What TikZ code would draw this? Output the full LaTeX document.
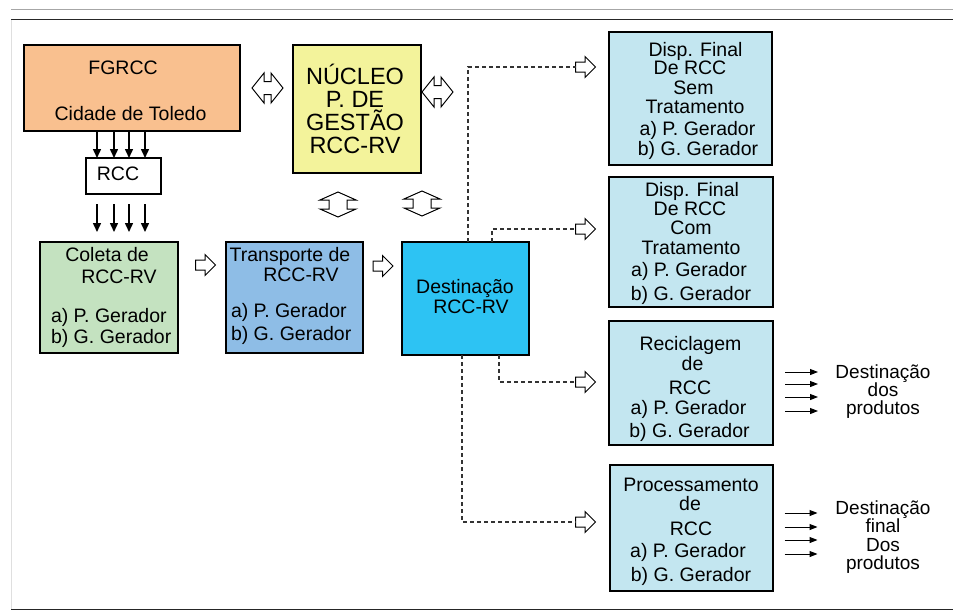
\documentclass[tikz,border=0pt]{standalone}
\usepackage{fontspec}
\setmainfont{Liberation Sans}
\usetikzlibrary{shapes.arrows,arrows.meta}
\definecolor{cOrange}{HTML}{F9C08F}
\definecolor{cYellow}{HTML}{F3F39B}
\definecolor{cGreen}{HTML}{C4E2C0}
\definecolor{cBlue}{HTML}{8EBDE6}
\definecolor{cCyan}{HTML}{2DC3F3}
\definecolor{cLight}{HTML}{C3E6F0}
\begin{document}
\begin{tikzpicture}[x=1pt,y=-1pt,
  box/.style={draw=black, line width=1.2pt, inner sep=0pt, outer sep=0pt},
  txt/.style={inner sep=0pt, outer sep=0pt, anchor=base, font=\fontsize{19.5}{23}\selectfont},
  txts/.style={txt, font=\fontsize{19}{22}\selectfont},
  txtw/.style={txt, anchor=base west},
  big/.style={inner sep=0pt, outer sep=0pt, anchor=base, font=\fontsize{23.5}{28}\selectfont},
  harrow/.style={single arrow, draw=black, fill=white, line width=1pt, inner xsep=0pt, inner ysep=4.5pt,
    single arrow head extend=5.5pt, single arrow tip angle=90, minimum height=20pt, minimum width=20pt, outer sep=0pt},
  blk/.style={draw=black, fill=white, line width=1pt, line join=miter},
  varr/.style={line width=1.5pt, -{Triangle[length=9pt,width=8pt]}},
  tarr/.style={line width=1pt, -{Triangle[length=8pt,width=6pt]}},
  dsh/.style={black!80, line width=1.3pt, dash pattern=on 4pt off 3pt}
]
\useasboundingbox (0,0) rectangle (953,611);
% frame
\draw[gray!70, line width=0.8pt] (11,9.5) -- (953,9.5);
\draw[black!85, line width=1.5pt] (11,19.5) -- (953,19.5);
\draw[gray!25, line width=0.6pt] (11,19.5) -- (11,609.5);
\draw[black!85, line width=1.5pt] (11,609.5) -- (953,609.5);

% boxes
\node[box, fill=cOrange, minimum width=216pt, minimum height=86pt] (fg) at (132,88) {};
\node[box, fill=white, minimum width=75pt, minimum height=36pt] (rcc) at (123.5,176) {};
\node[box, fill=cYellow, minimum width=128pt, minimum height=128pt] (nuc) at (357,109) {};
\node[box, fill=cGreen, minimum width=138pt, minimum height=111pt] (col) at (109,297.5) {};
\node[box, fill=cBlue, minimum width=137pt, minimum height=111pt] (tra) at (294.5,297.5) {};
\node[box, fill=cCyan, minimum width=127pt, minimum height=113pt] (des) at (465.5,298.5) {};
\node[box, fill=cLight, minimum width=163pt, minimum height=133pt] (d1) at (690.5,98.5) {};
\node[box, fill=cLight, minimum width=164pt, minimum height=130pt] (d2) at (691,242) {};
\node[box, fill=cLight, minimum width=164pt, minimum height=124pt] (d3) at (691,383) {};
\node[box, fill=cLight, minimum width=163pt, minimum height=126pt] (d4) at (691.5,528) {};

% texts
\node[txt] (fg1) at (123,74) {FGRCC};
\node[txt] (fg2) at (130.5,120.5) {Cidade de Toledo};
\node[txt] (rc1) at (118,180) {RCC};
\node[big] (nu1) at (355,84) {NÚCLEO};
\node[big] (nu2) at (355,107) {P. DE};
\node[big] (nu3) at (355,130) {GESTÃO};
\node[big] (nu4) at (355,153) {RCC-RV};
\node[txt] (co1) at (107,261.5) {Coleta de};
\node[txt] (co2) at (119,283) {RCC-RV};
\node[txtw] (co3) at (51,322) {a) P. Gerador};
\node[txtw] (co4) at (51,343) {b) G. Gerador};
\node[txt] (tr1) at (290,261.5) {Transporte de};
\node[txt] (tr2) at (301,281.5) {RCC-RV};
\node[txtw] (tr3) at (231,317) {a) P. Gerador};
\node[txtw] (tr4) at (231,340) {b) G. Gerador};
\node[txt] (de1) at (465,293) {Destinação};
\node[txt] (de2) at (471,313) {RCC-RV};
\node[txt] (a1) at (695.5,56) {Disp. Final};
\node[txt] (a2) at (690,74.5) {De RCC};
\node[txt] (a3) at (693.5,94) {Sem};
\node[txt] (a4) at (695,113.5) {Tratamento};
\node[txt] (a5) at (697.5,135) {a) P. Gerador};
\node[txt] (a6) at (698,155) {b) G. Gerador};
\node[txt] (b1) at (692,196.5) {Disp. Final};
\node[txt] (b2) at (690,215.5) {De RCC};
\node[txt] (b3) at (691,234.5) {Com};
\node[txt] (b4) at (691,254) {Tratamento};
\node[txt] (b5) at (689,276.5) {a) P. Gerador};
\node[txt] (b6) at (691,300.5) {b) G. Gerador};
\node[txt] (c1) at (690.5,350) {Reciclagem};
\node[txt] (c2) at (692.5,370) {de};
\node[txt] (c3) at (690,394) {RCC};
\node[txt] (c4) at (688.5,414.5) {a) P. Gerador};
\node[txt] (c5) at (689.5,437) {b) G. Gerador};
\node[txt] (e1) at (691,491) {Processamento};
\node[txt] (e2) at (690,510) {de};
\node[txt] (e3) at (691,535) {RCC};
\node[txt] (e4) at (688,557.5) {a) P. Gerador};
\node[txt] (e5) at (691,581) {b) G. Gerador};
\node[txts] (p1) at (883,378.5) {Destinação};
\node[txts] (p2) at (883,396.5) {dos};
\node[txts] (p3) at (883,414.5) {produtos};
\node[txts] (q1) at (883,514) {Destinação};
\node[txts] (q2) at (883,532.5) {final};
\node[txts] (q3) at (883,551) {Dos};
\node[txts] (q4) at (883,569.5) {produtos};

% block arrows
\node[harrow] (ha1) at (203,265) {};
\node[harrow] (ha2) at (380.5,266) {};
\node[harrow] (ar1) at (583,67) {};
\node[harrow] (ar2) at (583,229) {};
\node[harrow] (ar3) at (583,382) {};
\node[harrow] (ar4) at (583,522) {};
\coordinate (dh1) at (267.5,88);
\coordinate (dh2) at (437.5,92);
\foreach \c in {dh1,dh2} {
  \draw[blk, shift={(\c)}] (-15.5,0) -- (-3.5,-15) -- (-3.5,-6.5) -- (3.5,-6.5) -- (3.5,-15) -- (15.5,0)
    -- (3.5,15) -- (3.5,6.5) -- (-3.5,6.5) -- (-3.5,15) -- cycle;
}
\coordinate (dv1) at (338,204.5);
\coordinate (dv2) at (422,203.5);
\foreach \c in {dv1,dv2} {
  \draw[blk, shift={(\c)}] (0,-12.5) -- (18,-4.5) -- (9,-4.5) -- (9,4.5) -- (18,4.5) -- (0,12.5)
    -- (-18,4.5) -- (-9,4.5) -- (-9,-4.5) -- (-18,-4.5) -- cycle;
}

% thin arrows FGRCC -> RCC -> Coleta
\foreach \dx in {-26.5,-9.5,5.5,21.5} {
  \draw[varr] ([xshift=\dx pt]rcc.north |- fg.south) -- ([xshift=\dx pt]rcc.north);
  \draw[varr] ([xshift=\dx pt,yshift=-10pt]rcc.south) -- ([xshift=\dx pt,yshift=10pt]rcc.south |- col.north);
}

% dashed connectors
\draw[dsh] ([xshift=2.5pt]des.north) |- (ar1.west);
\draw[dsh] ([xshift=26.5pt]des.north) |- (ar2.west);
\draw[dsh] ([xshift=33.5pt]des.south) |- (ar3.west);
\draw[dsh] ([xshift=-3.5pt]des.south) |- (ar4.west);

% output arrows
\foreach \dy in {11,-1,-14,-28} {
  \draw[tarr] ([xshift=12pt,yshift=\dy pt]d3.east) -- ++(33,0);
}
\foreach \dy in {15,1,-12,-26} {
  \draw[tarr] ([xshift=11.5pt,yshift=\dy pt]d4.east) -- ++(33,0);
}
\end{tikzpicture}
\end{document}
